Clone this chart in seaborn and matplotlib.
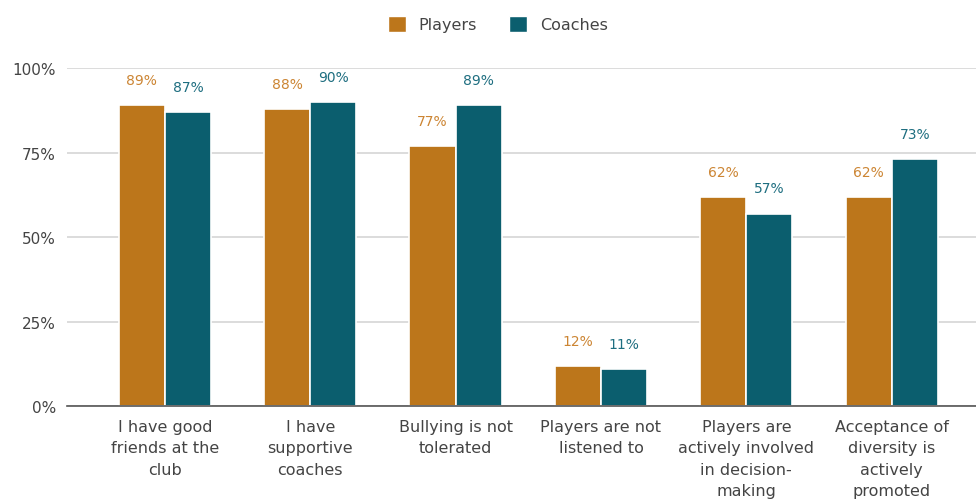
import matplotlib
matplotlib.use("Agg")
import matplotlib.pyplot as plt
import seaborn as sns
import pandas as pd
from matplotlib.patches import Patch

categories = ["I have good\nfriends at the\nclub", "I have\nsupportive\ncoaches",
              "Bullying is not\ntolerated", "Players are not\nlistened to",
              "Players are\nactively involved\nin decision-\nmaking",
              "Acceptance of\ndiversity is\nactively\npromoted"]
players = [89, 88, 77, 12, 62, 62]
coaches = [87, 90, 89, 11, 57, 73]
series = ["Players", "Coaches"]
bar_colors = ["#BC761B", "#0B5E6E"]
label_colors = ["#CC8533", "#1E6E80"]

df = pd.DataFrame({
    "category": categories * 2,
    "value": players + coaches,
    "series": ["Players"] * len(categories) + ["Coaches"] * len(categories),
})

sns.set_style("white")
plt.rcParams['font.family'] = ['DejaVu Sans']

fig = plt.figure(figsize=(9.76, 5.02), dpi=100)
ax = fig.add_axes([0.0686, 0.189, 0.9314, 0.673])

sns.barplot(data=df, x="category", y="value", hue="series", order=categories,
            hue_order=series, palette=bar_colors, width=0.635, ax=ax,
            edgecolor="white", linewidth=1.2, legend=False, saturation=1)

for cont, col in zip(ax.containers, label_colors):
    ax.bar_label(cont, labels=[f"{v:.0f}%" for v in cont.datavalues],
                 padding=13, color=col, fontsize=10)

ax.set_ylim(0, 100)
ax.set_xlim(-0.674, 5.58)
ax.set_yticks([0, 25, 50, 75, 100])
ax.set_yticklabels(["0%", "25%", "50%", "75%", "100%"])
ax.yaxis.grid(True, color="#D9D9D9", linewidth=1.3)
ax.set_axisbelow(True)
ax.set_xlabel("")
ax.set_ylabel("")
for s in ["left", "right", "top"]:
    ax.spines[s].set_visible(False)
ax.spines["bottom"].set_color("#555555")
ax.spines["bottom"].set_linewidth(1.2)
ax.tick_params(axis="both", length=0, labelcolor="#444444")
ax.tick_params(axis="y", pad=8, labelsize=11)
ax.tick_params(axis="x", pad=9, labelsize=11.5)
for t in ax.get_xticklabels():
    t.set_linespacing(1.55)

handles = [Patch(facecolor=c, label=s) for s, c in zip(series, bar_colors)]
fig.legend(handles=handles, loc="center", bbox_to_anchor=(0.51, 0.95), ncol=2,
           frameon=False, fontsize=11.5, handlelength=1.15, handleheight=1.15,
           columnspacing=2.0, handletextpad=0.8, labelcolor="#444444")

fig.savefig("out.png", dpi=100)
